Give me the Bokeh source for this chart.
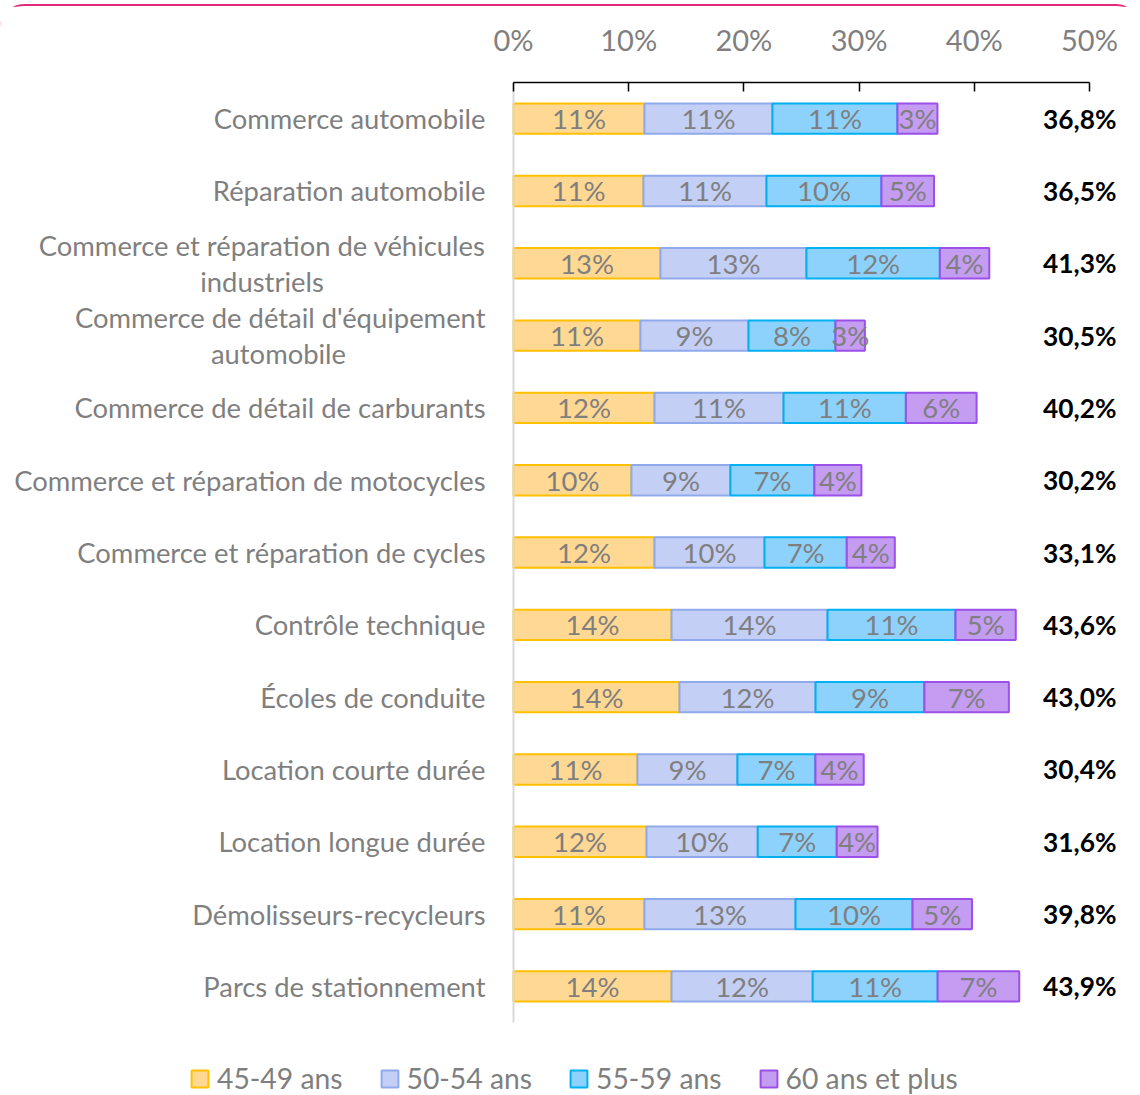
from bokeh.plotting import figure
from bokeh.models import Range1d, FixedTicker, Legend, LegendItem, ColumnDataSource
from bokeh.core.properties import value
from bokeh.embed import file_html
from bokeh.resources import INLINE

categories = [
    "Commerce automobile",
    "Réparation automobile",
    "Commerce et réparation de véhicules\nindustriels",
    "Commerce de détail d'équipement\nautomobile",
    "Commerce de détail de carburants",
    "Commerce et réparation de motocycles",
    "Commerce et réparation de cycles",
    "Contrôle technique",
    "Écoles de conduite",
    "Location courte durée",
    "Location longue durée",
    "Démolisseurs-recycleurs",
    "Parcs de stationnement",
]
series_names = ["45-49 ans", "50-54 ans", "55-59 ans", "60 ans et plus"]
v45 = [11.37, 11.28, 12.76, 11.02, 12.24, 10.24, 12.24, 13.72, 14.41, 10.76, 11.55, 11.37, 13.72]
v50 = [11.11, 10.68, 12.67, 9.38, 11.20, 8.59, 9.55, 13.54, 11.81, 8.68, 9.65, 13.11, 12.25]
v55 = [10.85, 9.98, 11.58, 7.55, 10.62, 7.29, 7.14, 11.11, 9.45, 6.77, 6.86, 10.16, 10.85]
v60 = [3.47, 4.56, 4.29, 2.55, 6.14, 4.08, 4.17, 5.23, 7.33, 4.19, 3.54, 5.16, 7.08]
tick_values = [0, 10, 20, 30, 40, 50]
tick_labels = ["0%", "10%", "20%", "30%", "40%", "50%"]

fills = ["#FFD993", "#C4CFF6", "#8DD2FD", "#C49CF2"]
lines = ["#FFC000", "#8FAAEA", "#00B0F0", "#9B50E8"]
FONT = "Lato"
GREY = "#7F7F7F"

# layout constants (pixels)
W, H = 1140, 1089
FRAME_LEFT_PX = 513        # position of 0 %
PX_PER_PCT = 11.52
TOP_PX = 76
ROW_PX = 72.31
LABEL_GAP_PX = 28
TOTAL_RIGHT_PX = 1116
WRAP_FIRST_LINE_PX = {"Commerce et réparation de véhicules": 447, "Commerce de détail d'équipement": 414}

n = len(categories)
rows = list(range(n))
series = [v45, v50, v55, v60]
keys = ["v45", "v50", "v55", "v60"]
data = {"row": rows}
for k, s in zip(keys, series):
    data[k] = s
src = ColumnDataSource(data)

x_start = -FRAME_LEFT_PX / PX_PER_PCT
x_end = (W - FRAME_LEFT_PX) / PX_PER_PCT
y_top = -0.5
y_bottom = y_top + (H - TOP_PX) / ROW_PX

p = figure(width=W, height=H,
           x_range=Range1d(x_start, x_end), y_range=Range1d(y_bottom, y_top),
           x_axis_location="above", y_axis_location=None,
           output_backend="svg", toolbar_location=None,
           min_border_left=0, min_border_right=0, min_border_top=TOP_PX, min_border_bottom=0)
p.styles = {"margin-top": "4px", "border-top": "2px solid #E3287D", "border-radius": "24px 24px 0 0"}

renderers = p.hbar_stack(keys, y="row", height=0.42, source=src,
                         fill_color=fills, line_color=lines, line_width=2)

# vertical category axis line
p.segment(x0=[0], y0=[-0.5], x1=[0], y1=[n - 0.5], line_color="#D9D9D9", line_width=2)

# segment labels
lx, ly, lt = [], [], []
for i in rows:
    left = 0.0
    for s in series:
        v = s[i]
        lx.append(left + v / 2)
        ly.append(i)
        lt.append(f"{round(v)}%")
        left += v
p.text(x=lx, y=ly, text=lt, text_align="center", text_baseline="middle",
       text_font=value(FONT), text_font_size="27.5px", text_color=GREY)

# totals
totals = [sum(s[i] for s in series) for i in rows]
total_txt = [f"{t:.1f}".replace(".", ",") + "%" for t in totals]
p.text(x=[(TOTAL_RIGHT_PX - FRAME_LEFT_PX) / PX_PER_PCT] * n, y=rows, text=total_txt,
       text_align="right", text_baseline="middle", text_font=value(FONT),
       text_font_size="26.3px", text_font_style="bold", text_color="black")

# category labels
label_x = -LABEL_GAP_PX / PX_PER_PCT
rx, ry, rt = [], [], []
cx, cy, ct = [], [], []
for i, c in enumerate(categories):
    parts = c.split("\n")
    if len(parts) == 1:
        rx.append(label_x); ry.append(i); rt.append(c)
    else:
        rx.append(label_x); ry.append(i - 0.25); rt.append(parts[0])
        cx.append(label_x - WRAP_FIRST_LINE_PX[parts[0]] / 2 / PX_PER_PCT)
        cy.append(i + 0.25); ct.append(parts[1])
p.text(x=rx, y=ry, text=rt, text_align="right", text_baseline="middle",
       text_font=value(FONT), text_font_size="27.4px", text_color=GREY)
p.text(x=cx, y=cy, text=ct, text_align="center", text_baseline="middle",
       text_font=value(FONT), text_font_size="27.4px", text_color=GREY)

xa = p.xaxis[0]
xa.ticker = FixedTicker(ticks=tick_values)
xa.major_label_overrides = {t: l for t, l in zip(tick_values, tick_labels)}
xa.bounds = (0, 50)
xa.axis_line_color = "black"
xa.axis_line_width = 1.5
xa.major_tick_line_color = "black"
xa.major_tick_line_width = 1.5
xa.major_tick_in = 9
xa.major_tick_out = 0
xa.minor_tick_line_color = None
xa.major_label_standoff = 26
xa.major_label_text_font = FONT
xa.major_label_text_font_size = "29px"
xa.major_label_text_color = GREY

p.xgrid.visible = False
p.ygrid.visible = False
p.outline_line_color = None

legend = Legend(items=[LegendItem(label=nm, renderers=[r]) for nm, r in zip(series_names, renderers)],
                orientation="horizontal", location=(189, 0),
                glyph_width=21, glyph_height=21, label_standoff=7, spacing=36,
                padding=0, margin=0, border_line_alpha=0, background_fill_alpha=0,
                label_text_font=FONT, label_text_font_size="28.3px", label_text_color=GREY)
p.add_layout(legend, "center")

open("out.html", "w").write(file_html(p, INLINE))
